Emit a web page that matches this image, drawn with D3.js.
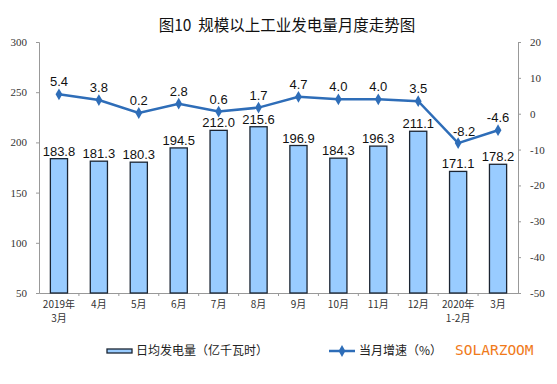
<!DOCTYPE html>
<html>
<head>
<meta charset="utf-8">
<script src="https://cdn.jsdelivr.net/npm/d3@7"></script>
<style>
  body { margin: 0; background: #fff; }
  svg { display: block; }
</style>
</head>
<body>
<div id="chart"></div>
<script>
// category labels (two lines each)
var months = ["2019年|3月", "4月", "5月", "6月", "7月", "8月", "9月", "10月", "11月", "12月", "2020年|1-2月", "3月"];
// daily average generation, 100 million kWh
var dailyGen = [183.8, 181.3, 180.3, 194.5, 212.0, 215.6, 196.9, 184.3, 196.3, 211.1, 171.1, 178.2];
// monthly growth, %
var growth = [5.4, 3.8, 0.2, 2.8, 0.6, 1.7, 4.7, 4.0, 4.0, 3.5, -8.2, -4.6];
var leftTicks = [50, 100, 150, 200, 250, 300];
var rightTicks = [-50, -40, -30, -20, -10, 0, 10, 20];

var W = 557, H = 384;
var margin = {top: 42, right: 39, bottom: 91, left: 39};
var width = W - margin.left - margin.right,
    height = H - margin.top - margin.bottom;

var svg = d3.select("#chart").append("svg")
    .attr("width", W).attr("height", H);

// title
svg.append("text")
    .attr("x", 287).attr("y", 31)
    .attr("text-anchor", "middle")
    .attr("font-family", "'Noto Sans CJK SC', sans-serif")
    .attr("font-size", "15.5px")
    .attr("fill", "#111")
    .text("图10\u00a0\u00a0规模以上工业发电量月度走势图");

var g = svg.append("g")
    .attr("transform", "translate(" + margin.left + "," + margin.top + ")");

var x = d3.scaleBand().domain(months).range([0, width]);
var yL = d3.scaleLinear().domain([50, 300]).range([height, 0]);
var yR = d3.scaleLinear().domain([-50, 20]).range([height, 0]);

// left axis
var axL = g.append("g")
    .call(d3.axisLeft(yL).tickValues(leftTicks).tickFormat(String).tickSize(3).tickPadding(9));
axL.selectAll("text")
    .attr("font-family", "'Liberation Serif', serif")
    .attr("font-size", "11px")
    .attr("fill", "#333");

// right axis
var axR = g.append("g")
    .attr("transform", "translate(" + width + ",0)")
    .call(d3.axisRight(yR).tickValues(rightTicks).tickFormat(String).tickSize(3).tickPadding(9));
axR.selectAll("text")
    .attr("font-family", "'Liberation Serif', serif")
    .attr("font-size", "11px")
    .attr("fill", "#333");

// bottom axis
var axB = g.append("g")
    .attr("transform", "translate(0," + height + ")")
    .call(d3.axisBottom(x).tickSize(0).tickPadding(8));
axB.selectAll(".tick text").each(function(d) {
    var t = d3.select(this).text(null)
        .attr("font-family", "'Noto Sans CJK SC', sans-serif")
        .attr("font-size", "10px")
        .attr("fill", "#333");
    d.split("|").forEach(function(line, i) {
        t.append("tspan").attr("x", 0).attr("dy", i === 0 ? "0.71em" : "1.35em").text(line);
    });
});
// small separators between categories
g.append("g").selectAll("line")
    .data(months.slice(1))
    .enter().append("line")
    .attr("x1", function(d) { return x(d); })
    .attr("x2", function(d) { return x(d); })
    .attr("y1", height).attr("y2", height + 3)
    .attr("stroke", "#999");

svg.selectAll(".domain, .tick line").attr("stroke", "#999");

// bars
var bw = x.bandwidth() * 0.43;
g.selectAll(".bar")
    .data(dailyGen)
    .enter().append("rect")
    .attr("class", "bar")
    .attr("x", function(d, i) { return x(months[i]) + x.bandwidth() / 2 - bw / 2; })
    .attr("y", function(d) { return yL(d); })
    .attr("width", bw)
    .attr("height", function(d) { return height - yL(d); })
    .attr("fill", "#99ccff")
    .attr("stroke", "#1b2533")
    .attr("stroke-width", 1.3);

g.selectAll(".barlab")
    .data(dailyGen)
    .enter().append("text")
    .attr("x", function(d, i) { return x(months[i]) + x.bandwidth() / 2; })
    .attr("y", function(d) { return yL(d) - 3; })
    .attr("text-anchor", "middle")
    .attr("font-family", "'Liberation Sans', Arial, sans-serif")
    .attr("font-size", "13px")
    .attr("fill", "#111")
    .text(function(d) { return d.toFixed(1); });

// growth line
var cx = function(d, i) { return x(months[i]) + x.bandwidth() / 2; };
var line = d3.line()
    .x(cx)
    .y(function(d) { return yR(d); });

g.append("path")
    .datum(growth)
    .attr("d", line)
    .attr("fill", "none")
    .attr("stroke", "#2e6db8")
    .attr("stroke-width", 2.5);

var diamond = d3.symbol().type(d3.symbolDiamond).size(40);
g.selectAll(".pt")
    .data(growth)
    .enter().append("path")
    .attr("d", diamond)
    .attr("transform", function(d, i) { return "translate(" + cx(d, i) + "," + yR(d) + ")"; })
    .attr("fill", "#2e6db8");

g.selectAll(".linelab")
    .data(growth)
    .enter().append("text")
    .attr("x", function(d, i) { return cx(d, i) + (i === 10 ? 6 : 0); })
    .attr("y", function(d, i) { return yR(d) - (i === 10 ? 7 : 8); })
    .attr("text-anchor", "middle")
    .attr("font-family", "'Liberation Sans', Arial, sans-serif")
    .attr("font-size", "13px")
    .attr("fill", "#111")
    .text(function(d) { return d.toFixed(1); });

// legend
var leg = svg.append("g");
leg.append("rect")
    .attr("x", 107).attr("y", 349).attr("width", 25).attr("height", 4)
    .attr("fill", "#99ccff").attr("stroke", "#1b2533").attr("stroke-width", 1.3);
leg.append("text")
    .attr("x", 136).attr("y", 355)
    .attr("font-family", "'Noto Sans CJK SC', sans-serif")
    .attr("font-size", "12px").attr("fill", "#222")
    .text("日均发电量（亿千瓦时）");
leg.append("line")
    .attr("x1", 329).attr("x2", 355).attr("y1", 351).attr("y2", 351)
    .attr("stroke", "#2e6db8").attr("stroke-width", 2.5);
leg.append("path")
    .attr("d", diamond)
    .attr("transform", "translate(342,351)")
    .attr("fill", "#2e6db8");
leg.append("text")
    .attr("x", 359).attr("y", 355)
    .attr("font-family", "'Noto Sans CJK SC', sans-serif")
    .attr("font-size", "12px").attr("fill", "#222")
    .text("当月增速（%）");

svg.append("text")
    .attr("x", 455).attr("y", 355)
    .attr("font-family", "'DejaVu Sans Mono', monospace")
    .attr("font-size", "14.5px")
    .attr("fill", "#f07a1a")
    .text("SOLARZOOM");
</script>
</body>
</html>
